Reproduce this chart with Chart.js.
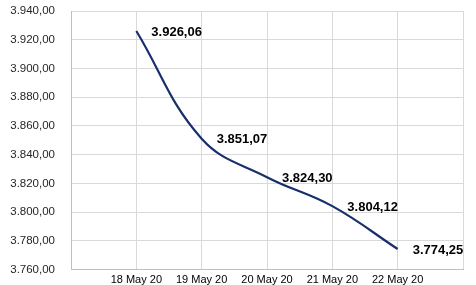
<!DOCTYPE html>
<html>
<head>
<meta charset="utf-8">
<script src="https://cdn.jsdelivr.net/npm/chart.js@4/dist/chart.umd.min.js"></script>
<style>
  html, body { margin: 0; padding: 0; background: #fff; }
  #wrap { width: 476px; height: 285px; }
</style>
</head>
<body>
<div id="wrap"><canvas id="chart" width="476" height="285"></canvas></div>
<script>
// dates shown on the axis, with an empty slot either side like the original
const dates = ['18 May 20', '19 May 20', '20 May 20', '21 May 20', '22 May 20'];
const closes = [3926.06, 3851.07, 3824.30, 3804.12, 3774.25];
const yMin = 3760;
const yMax = 3940;
const yStep = 20;

const labels = [''].concat(dates, ['']);
const values = [null].concat(closes, [null]);

// 3926.06 -> "3.926,06"
function fmt(v) {
  var parts = v.toFixed(2).split('.');
  var intPart = parts[0].replace(/\B(?=(\d{3})+(?!\d))/g, '.');
  return intPart + ',' + parts[1];
}

const valueLabels = {
  id: 'valueLabels',
  afterDatasetsDraw(chart) {
    var ctx = chart.ctx;
    var meta = chart.getDatasetMeta(0);
    ctx.save();
    ctx.font = 'bold 13px "Liberation Sans", Arial, sans-serif';
    ctx.fillStyle = '#000';
    ctx.textBaseline = 'middle';
    ctx.textAlign = 'left';
    meta.data.forEach(function (pt, i) {
      var v = values[i];
      if (v == null) return;
      ctx.fillText(fmt(v), pt.x + 15, pt.y + 1);
    });
    ctx.restore();
  }
};

new Chart(document.getElementById('chart'), {
  type: 'line',
  data: {
    labels: labels,
    datasets: [{
      data: values,
      borderColor: '#172f6b',
      borderWidth: 2.2,
      pointRadius: 0,
      tension: 0.4,
      fill: false
    }]
  },
  options: {
    responsive: false,
    animation: false,
    layout: { padding: { top: 11, right: 13, left: 0, bottom: 0 } },
    plugins: {
      legend: { display: false },
      tooltip: { enabled: false }
    },
    scales: {
      x: {
        offset: false,
        grid: { color: '#d9d9d9', drawTicks: false },
        border: { color: '#bfbfbf' },
        ticks: {
          padding: 4,
          maxRotation: 0,
          autoSkip: false,
          color: '#000',
          font: { family: '"Liberation Sans", Arial, sans-serif', size: 11 }
        },
        afterFit: function (s) { s.height = 15.5; }
      },
      y: {
        min: yMin,
        max: yMax,
        // invisible tick marks push the labels away from the axis
        grid: { color: '#d9d9d9', drawTicks: true, tickLength: 16, tickColor: 'rgba(0,0,0,0)' },
        border: { color: '#bfbfbf' },
        ticks: {
          stepSize: yStep,
          padding: 0,
          color: '#262626',
          font: { family: '"Liberation Sans", Arial, sans-serif', size: 11.5 },
          callback: function (v) { return fmt(v); }
        },
        afterFit: function (s) { s.width = 71; }
      }
    }
  },
  plugins: [valueLabels]
});
</script>
</body>
</html>
